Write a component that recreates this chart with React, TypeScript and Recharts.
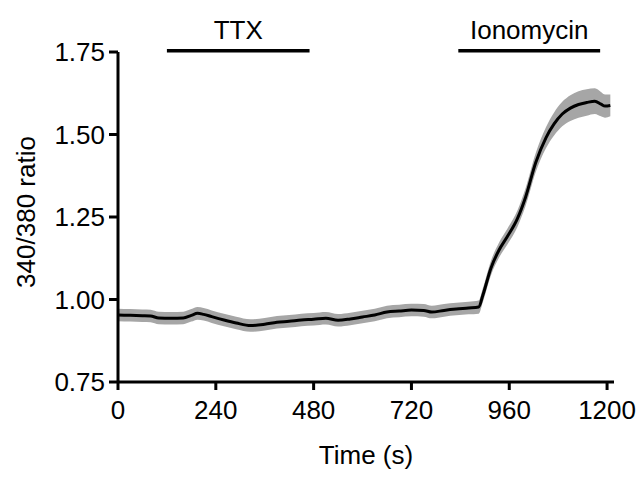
import {
  ComposedChart,
  Area,
  Line,
  XAxis,
  YAxis,
  ReferenceLine,
} from "recharts";

// time points (s)
const times = [
  0, 30, 60, 80, 100, 130, 160, 180, 195, 210, 230, 260, 290, 325, 360, 390,
  420, 450, 480, 510, 540, 570, 600, 630, 660, 690, 720, 750, 770, 800, 830,
  860, 885, 895, 915, 935, 955, 980, 1000, 1025, 1050, 1070, 1090, 1110, 1130,
  1150, 1170, 1185, 1195, 1208,
];

// mean 340/380 ratio
const ratios = [
  0.953, 0.952, 0.951, 0.95, 0.944, 0.943, 0.944, 0.952, 0.958, 0.955, 0.948,
  0.938, 0.929, 0.921, 0.925, 0.931, 0.934, 0.938, 0.94, 0.943, 0.937, 0.941,
  0.947, 0.953, 0.962, 0.965, 0.968, 0.967, 0.962, 0.967, 0.971, 0.974, 0.977,
  1.012, 1.095, 1.15, 1.19, 1.245, 1.31, 1.415, 1.49, 1.532, 1.562, 1.58,
  1.591, 1.597, 1.601, 1.592, 1.586, 1.588,
];

// SEM (grey band)
const sems = [
  0.019, 0.019, 0.019, 0.019, 0.019, 0.019, 0.019, 0.019, 0.019, 0.019, 0.019,
  0.019, 0.019, 0.019, 0.019, 0.019, 0.019, 0.019, 0.019, 0.019, 0.019, 0.019,
  0.019, 0.019, 0.019, 0.019, 0.019, 0.019, 0.019, 0.019, 0.019, 0.019, 0.02,
  0.021, 0.022, 0.023, 0.024, 0.025, 0.027, 0.029, 0.032, 0.035, 0.037, 0.039,
  0.04, 0.04, 0.039, 0.037, 0.035, 0.033,
];

const xTicks = [0, 240, 480, 720, 960, 1200];
const yTicks = [0.75, 1.0, 1.25, 1.5, 1.75];

const treatments = [
  { name: "TTX", start: 120, end: 470 },
  { name: "Ionomycin", start: 835, end: 1183 },
];

const data = times.map((t, i) => ({
  t,
  ratio: ratios[i],
  band: [ratios[i] - sems[i], ratios[i] + sems[i]],
}));

const FONT = "'Liberation Sans', Arial, Helvetica, sans-serif";
const tickStyle = { fontSize: 26, fill: "#000", fontFamily: FONT };

function YTitle(props: any) {
  const { viewBox } = props;
  const x = viewBox.x + 26;
  const y = 212;
  return (
    <text
      x={x}
      y={y}
      transform={`rotate(-90, ${x}, ${y})`}
      textAnchor="middle"
      dominantBaseline="central"
      fontSize={26}
      fontFamily={FONT}
      fill="#000"
    >
      340/380 ratio
    </text>
  );
}

export default function App() {
  return (
    <div style={{ position: "absolute", left: 0, top: 0, background: "#fff" }}>
      <ComposedChart
        width={640}
        height={477}
        data={data}
        margin={{ top: 52, right: 26, bottom: 0, left: 0 }}
      >
        <XAxis
          dataKey="t"
          type="number"
          domain={[0, 1217]}
          ticks={xTicks}
          allowDataOverflow
          stroke="#000"
          strokeWidth={3}
          tickSize={8}
          tickMargin={11}
          tick={tickStyle}
          height={95}
          label={{
            value: "Time (s)",
            position: "insideBottom",
            offset: 13,
            style: { fontSize: 26, fill: "#000", fontFamily: FONT },
          }}
        />
        <YAxis
          type="number"
          domain={[0.75, 1.75]}
          ticks={yTicks}
          tickFormatter={(v: number) => v.toFixed(2)}
          stroke="#000"
          strokeWidth={3}
          tickSize={9}
          tickMargin={4}
          tick={tickStyle}
          width={118}
          label={<YTitle />}
        />
        <Area
          dataKey="band"
          type="monotone"
          stroke="none"
          fill="#a6a6a6"
          fillOpacity={1}
          isAnimationActive={false}
        />
        <Line
          dataKey="ratio"
          type="monotone"
          stroke="#000"
          strokeWidth={3}
          dot={false}
          isAnimationActive={false}
        />
        {treatments.map((tr) => (
          <ReferenceLine
            key={tr.name}
            segment={[
              { x: tr.start, y: 1.754 },
              { x: tr.end, y: 1.754 },
            ]}
            stroke="#000"
            strokeWidth={3.5}
            ifOverflow="visible"
            label={{
              value: tr.name,
              position: "top",
              offset: 12,
              style: { fontSize: 26, fill: "#000", fontFamily: FONT },
            }}
          />
        ))}
      </ComposedChart>
    </div>
  );
}
